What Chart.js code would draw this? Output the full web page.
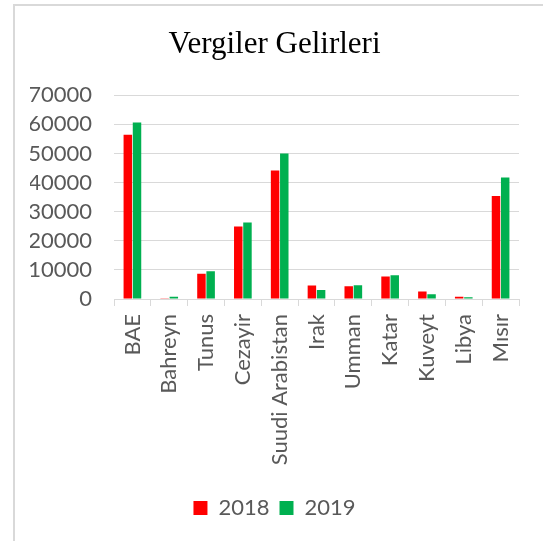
<!DOCTYPE html>
<html>
<head>
<meta charset="utf-8">
<script src="https://cdn.jsdelivr.net/npm/chart.js@4"></script>
<style>
  html, body { margin: 0; padding: 0; background: #fff; overflow: hidden; }
  #frame {
    position: absolute; left: 13px; top: 4px; width: 700px; height: 700px;
    border-left: 2px solid #d9d9d9; border-top: 2px solid #d9d9d9;
  }
  #wrap { position: absolute; left: 0; top: 0; width: 543px; height: 541px; }
</style>
</head>
<body>
<div id="frame"></div>
<div id="wrap"><canvas id="js-bar-chart"></canvas></div>
<script>
// Chart data
const countries = ['BAE', 'Bahreyn', 'Tunus', 'Cezayir', 'Suudi Arabistan', 'Irak', 'Umman', 'Katar', 'Kuveyt', 'Libya', 'Mısır'];
const values2018 = [56400, 300, 8700, 24900, 44100, 4600, 4400, 7700, 2600, 800, 35400];
const values2019 = [60600, 800, 9500, 26300, 50000, 3100, 4700, 8200, 1600, 600, 41700];
const yTicks = [0, 10000, 20000, 30000, 40000, 50000, 60000, 70000];

const textGrey = '#595959';
const gridGrey = '#d9d9d9';
const labelFont = { family: 'Lato', size: 22 };

// Grab the bar chart canvas
const barChartContext = document.getElementById('js-bar-chart').getContext('2d');

const newBarChart = new Chart(barChartContext, {
  type: 'bar',
  data: {
    labels: countries,
    datasets: [
      { label: '2018', data: values2018, backgroundColor: '#ff0000' },
      { label: '2019', data: values2019, backgroundColor: '#00b050' },
    ],
  },
  options: {
    responsive: true,
    maintainAspectRatio: false,
    animation: false,
    datasets: { bar: { barPercentage: 0.92, categoryPercentage: 0.5 } },
    // left padding nudges title/legend to the right like the original
    layout: { padding: { left: 30, right: 24, top: 0, bottom: 12 } },
    plugins: {
      title: {
        display: true,
        text: 'Vergiler Gelirleri',
        color: '#000',
        font: { family: 'Liberation Serif', size: 31, weight: 'normal' },
        padding: { top: 26, bottom: 32 },
      },
      legend: {
        position: 'bottom',
        labels: {
          color: textGrey,
          font: labelFont,
          boxWidth: 14,
          boxHeight: 14,
          padding: 10,
        },
      },
      tooltip: { enabled: false },
    },
    scales: {
      x: {
        grid: { display: true, drawOnChartArea: false, drawTicks: true, tickLength: 7, color: gridGrey, offset: true },
        border: { display: true, color: gridGrey, width: 1 },
        ticks: { color: textGrey, font: labelFont, minRotation: 90, maxRotation: 90, autoSkip: false, padding: 8 },
        afterFit: (scale) => { scale.height = 188; },
      },
      y: {
        min: 0,
        max: 70000,
        afterBuildTicks: (scale) => { scale.ticks = yTicks.map((v) => ({ value: v })); },
        grid: { color: gridGrey, drawTicks: false, lineWidth: 1 },
        border: { display: false },
        ticks: { color: textGrey, font: labelFont, padding: 22, autoSkip: false, callback: (v) => String(v) },
        afterFit: (scale) => { scale.width = 84; },
      },
    },
  },
});
</script>
</body>
</html>
